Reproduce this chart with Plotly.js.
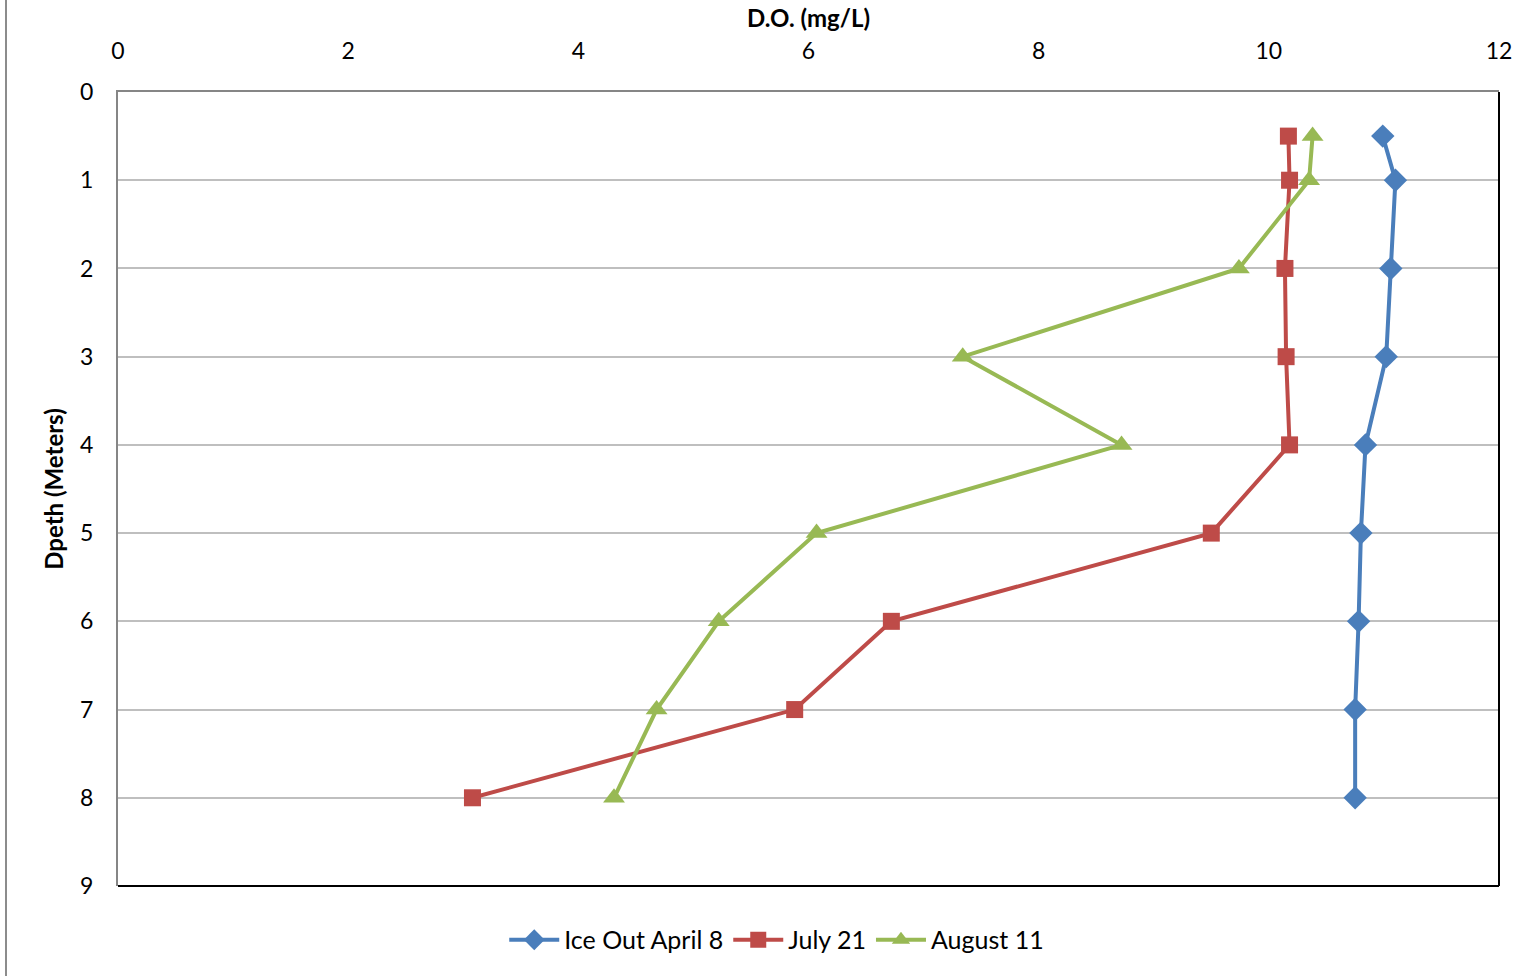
<!DOCTYPE html>
<html>
<head>
<meta charset="utf-8">
<script src="https://cdn.plot.ly/plotly-3.0.1.min.js"></script>
<style>
  html, body { margin: 0; padding: 0; background: #fff; }
  #wrap { position: relative; width: 1535px; height: 976px; }
  #edge { position: absolute; left: 5px; top: 0; width: 2px; height: 976px; background: #8c8c8c; }
  #chart { position: absolute; left: 0; top: 0; width: 1535px; height: 976px; }
</style>
</head>
<body>
<div id="wrap">
  <div id="chart"></div>
  <div id="edge"></div>
</div>
<script>
// Dissolved oxygen profiles by depth
const depths = [0.5, 1, 2, 3, 4, 5, 6, 7, 8];
const iceOutApril8 = [10.99, 11.10, 11.06, 11.02, 10.84, 10.80, 10.78, 10.75, 10.75];
const july21 = [10.17, 10.18, 10.14, 10.15, 10.18, 9.50, 6.72, 5.88, 3.08];
const august11 = [10.38, 10.35, 9.74, 7.34, 8.72, 6.07, 5.22, 4.68, 4.31];
const seriesNames = ['Ice Out April 8', 'July 21', 'August 11'];
const xTicks = [0, 2, 4, 6, 8, 10, 12];
const yTicks = [0, 1, 2, 3, 4, 5, 6, 7, 8, 9];

const FONT = 'Lato, Carlito, Calibri, "Open Sans", sans-serif';

function series(name, xs, color, symbol, size) {
  return {
    type: 'scatter', mode: 'lines+markers', name: name,
    x: xs, y: depths,
    line: { color: color, width: 4 },
    marker: { color: color, symbol: symbol, size: size },
    cliponaxis: false
  };
}

const data = [
  series(seriesNames[0], iceOutApril8, '#4A7EBB', 'diamond', 18),
  series(seriesNames[1], july21, '#BE4B48', 'square', 17),
  series(seriesNames[2], august11, '#98B954', 'triangle-up', 19)
];

const layout = {
  width: 1535, height: 976,
  margin: { l: 118, r: 36, t: 92, b: 90 },
  paper_bgcolor: '#ffffff', plot_bgcolor: '#ffffff',
  font: { family: FONT, size: 23, color: '#000' },
  showlegend: true,
  legend: {
    orientation: 'h', x: 0.477, xanchor: 'center', y: -0.068, yanchor: 'middle',
    font: { family: FONT, size: 25, color: '#000' },
    itemwidth: 50, tracegroupgap: 0
  },
  xaxis: {
    side: 'top', range: [0, 12], tickvals: xTicks, ticktext: xTicks.map(String),
    showgrid: false, zeroline: false,
    showline: true, linecolor: '#868686', linewidth: 2,
    ticks: 'outside', ticklen: 22, tickcolor: 'rgba(0,0,0,0)',
    tickfont: { family: FONT, size: 23, color: '#000' },
    title: { text: '<b>D.O. (mg/L)</b>', font: { family: FONT, size: 24, color: '#000' }, standoff: 1 }
  },
  yaxis: {
    range: [9, 0], tickvals: yTicks, ticktext: yTicks.map(String),
    showgrid: true, gridcolor: '#BFBFBF', gridwidth: 2,
    zeroline: false,
    showline: true, linecolor: '#868686', linewidth: 2,
    ticks: 'outside', ticklen: 18, tickcolor: 'rgba(0,0,0,0)',
    tickfont: { family: FONT, size: 23, color: '#000' },
    title: { text: '<b>Dpeth (Meters)</b>', font: { family: FONT, size: 24, color: '#000' }, standoff: 10 }
  },
  shapes: [
    { type: 'line', xref: 'paper', yref: 'paper', x0: 1, x1: 1, y0: 0, y1: 1, line: { color: '#000', width: 2 } },
    { type: 'line', xref: 'paper', yref: 'paper', x0: 0, x1: 1, y0: 0, y1: 0, line: { color: '#000', width: 2 } }
  ]
};

Plotly.newPlot('chart', data, layout, { displayModeBar: false, staticPlot: true });
</script>
</body>
</html>
